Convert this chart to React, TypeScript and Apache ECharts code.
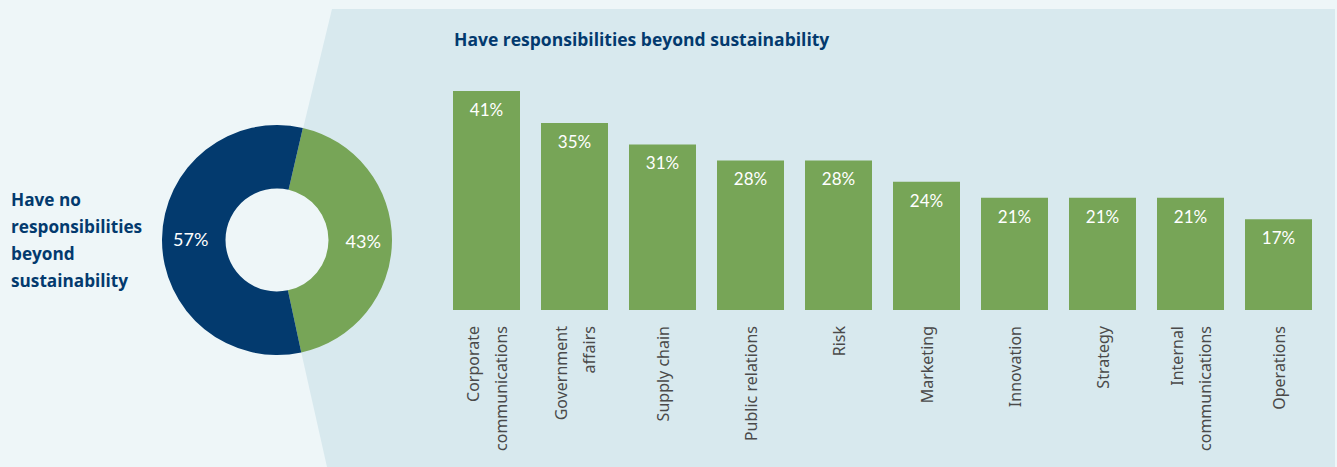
import React, { useEffect, useRef } from "react";
import * as echarts from "echarts";

const donutLabels = ["Have responsibilities beyond sustainability", "Have no responsibilities beyond sustainability"];
const donutValues = [43, 57];
const categories = [
  "Corporate\ncommunications",
  "Government\naffairs",
  "Supply chain",
  "Public relations",
  "Risk",
  "Marketing",
  "Innovation",
  "Strategy",
  "Internal\ncommunications",
  "Operations",
];
const barValues = [41, 35, 31, 28, 28, 24, 21, 21, 21, 17];
const leftText = "Have no\nresponsibilities\nbeyond\nsustainability";
const titleText = "Have responsibilities beyond sustainability";

const NAVY = "#033a6e";
const GREEN = "#77a557";
const LIGHT = "#eef6f8";
const PANEL = "#d8e9ee";

export default function App() {
  const ref = useRef<HTMLDivElement>(null);
  useEffect(() => {
    if (!ref.current) return;
    const chart = echarts.init(ref.current, undefined, { renderer: "svg" });
    chart.setOption({
      animation: false,
      backgroundColor: LIGHT,
      graphic: [
        {
          type: "polygon",
          z: -10,
          shape: {
            points: [
              [332, 9],
              [1335, 9],
              [1335, 467],
              [327, 467],
              [276, 240],
            ],
          },
          style: { fill: PANEL },
        },
        {
          type: "circle",
          z: -5,
          shape: { cx: 277, cy: 240, r: 52 },
          style: { fill: LIGHT },
        },
        {
          type: "text",
          x: 11,
          y: 240,
          style: {
            text: leftText,
            fill: NAVY,
            font: "bold 17.2px 'Open Sans'",
            lineHeight: 26.7,
            verticalAlign: "middle",
            align: "left",
          },
        },
        {
          type: "text",
          x: 454,
          y: 39,
          style: {
            text: titleText,
            fill: NAVY,
            font: "bold 17.5px 'Open Sans'",
            verticalAlign: "middle",
            align: "left",
          },
        },
      ],
      grid: { left: 442.5, right: 14.5, top: 43, bottom: 157, containLabel: false },
      xAxis: {
        type: "category",
        data: categories,
        axisLine: { show: false },
        axisTick: { show: false },
        axisLabel: {
          rotate: 90,
          interval: 0,
          margin: 16,
          color: "#4a4a4a",
          fontFamily: "Noto Sans",
          fontSize: 16,
          lineHeight: 28,
        },
      },
      yAxis: {
        type: "value",
        min: 0,
        max: 50,
        show: false,
        splitLine: { show: false },
      },
      series: [
        {
          type: "pie",
          center: [277, 240],
          radius: [51.5, 115],
          startAngle: 77,
          clockwise: true,
          label: {
            show: true,
            position: "inside",
            formatter: "{c}%",
            color: "#ffffff",
            fontFamily: "Lato",
            fontSize: 18,
          },
          labelLine: { show: false },
          emphasis: { disabled: true },
          data: donutValues.map((v, i) => ({
            name: donutLabels[i],
            value: v,
            itemStyle: { color: i === 0 ? GREEN : NAVY },
          })),
        },
        {
          type: "bar",
          data: barValues,
          barWidth: 67,
          itemStyle: { color: GREEN },
          label: {
            show: true,
            position: "insideTop",
            distance: 10,
            formatter: "{c}%",
            color: "#ffffff",
            fontFamily: "Lato",
            fontSize: 17,
          },
        },
      ],
    });
    return () => chart.dispose();
  }, []);
  return (
    <div
      ref={ref}
      style={{ position: "absolute", left: 0, top: 0, width: 1337, height: 467 }}
    />
  );
}
